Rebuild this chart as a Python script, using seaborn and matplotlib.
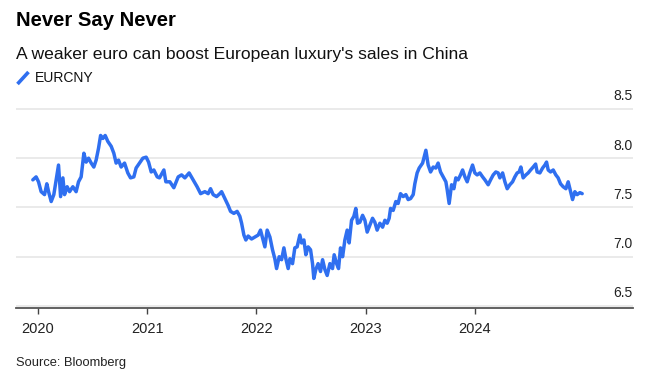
import matplotlib
matplotlib.use("Agg")
import matplotlib.pyplot as plt
from matplotlib.lines import Line2D
import seaborn as sns
import pandas as pd

# EURCNY (decimal year, rate)
years = [
    2019.954, 2019.984, 2020.006, 2020.030, 2020.061, 2020.082, 2020.098, 2020.122,
    2020.146, 2020.167, 2020.189, 2020.208, 2020.229, 2020.244, 2020.268, 2020.290,
    2020.320, 2020.350, 2020.372, 2020.396, 2020.421, 2020.442, 2020.464, 2020.488,
    2020.512, 2020.533, 2020.555, 2020.574, 2020.595, 2020.616, 2020.640, 2020.671,
    2020.695, 2020.716, 2020.738, 2020.762, 2020.793, 2020.823, 2020.848, 2020.878,
    2020.899, 2020.930, 2020.961, 2020.991, 2021.013, 2021.037, 2021.061, 2021.092,
    2021.113, 2021.153, 2021.171, 2021.208, 2021.244, 2021.284, 2021.315, 2021.345,
    2021.384, 2021.421, 2021.457, 2021.489, 2021.528, 2021.558, 2021.580, 2021.604,
    2021.635, 2021.665, 2021.681, 2021.711, 2021.741, 2021.763, 2021.793, 2021.823,
    2021.848, 2021.864, 2021.885, 2021.903, 2021.924, 2021.955, 2021.985, 2022.016,
    2022.037, 2022.056, 2022.077, 2022.098, 2022.123, 2022.147, 2022.168, 2022.184,
    2022.208, 2022.230, 2022.251, 2022.269, 2022.290, 2022.306, 2022.330, 2022.351,
    2022.372, 2022.397, 2022.413, 2022.434, 2022.452, 2022.473, 2022.495, 2022.513,
    2022.525, 2022.543, 2022.564, 2022.586, 2022.605, 2022.626, 2022.647, 2022.672,
    2022.696, 2022.711, 2022.733, 2022.751, 2022.769, 2022.788, 2022.809, 2022.830,
    2022.848, 2022.870, 2022.891, 2022.909, 2022.925, 2022.946, 2022.971, 2022.992,
    2023.013, 2023.038, 2023.062, 2023.083, 2023.104, 2023.129, 2023.154, 2023.175,
    2023.196, 2023.214, 2023.227, 2023.251, 2023.275, 2023.296, 2023.318, 2023.342,
    2023.367, 2023.388, 2023.410, 2023.434, 2023.449, 2023.470, 2023.489, 2023.520,
    2023.550, 2023.571, 2023.593, 2023.617, 2023.641, 2023.662, 2023.684, 2023.708,
    2023.733, 2023.745, 2023.763, 2023.785, 2023.806, 2023.824, 2023.845, 2023.867,
    2023.886, 2023.907, 2023.928, 2023.952, 2023.977, 2023.998, 2024.019, 2024.044,
    2024.069, 2024.090, 2024.120, 2024.142, 2024.166, 2024.190, 2024.211, 2024.227,
    2024.252, 2024.273, 2024.294, 2024.318, 2024.343, 2024.364, 2024.385, 2024.403,
    2024.419, 2024.440, 2024.465, 2024.486, 2024.508, 2024.532, 2024.554, 2024.568,
    2024.593, 2024.618, 2024.639, 2024.654, 2024.669, 2024.691, 2024.715, 2024.739,
    2024.760, 2024.782, 2024.806, 2024.831, 2024.852, 2024.874, 2024.892, 2024.913,
    2024.934, 2024.959, 2024.980,
]
eurcny = [
    7.78, 7.81, 7.76, 7.66, 7.63, 7.74, 7.66, 7.56,
    7.63, 7.78, 7.93, 7.61, 7.80, 7.63, 7.71, 7.66,
    7.71, 7.66, 7.76, 7.81, 8.05, 7.96, 8.00, 7.95,
    7.91, 7.98, 8.10, 8.23, 8.20, 8.23, 8.17, 8.12,
    8.05, 7.95, 7.98, 7.91, 7.95, 7.85, 7.80, 7.81,
    7.90, 7.95, 8.00, 8.01, 7.96, 7.86, 7.88, 7.81,
    7.80, 7.88, 7.76, 7.76, 7.70, 7.81, 7.83, 7.80,
    7.85, 7.78, 7.71, 7.64, 7.66, 7.64, 7.69, 7.63,
    7.61, 7.64, 7.66, 7.59, 7.52, 7.46, 7.44, 7.46,
    7.41, 7.34, 7.22, 7.17, 7.21, 7.18, 7.20, 7.22,
    7.27, 7.19, 7.10, 7.27, 7.20, 7.07, 6.98, 6.88,
    7.00, 6.97, 7.09, 6.98, 6.88, 6.98, 6.93, 7.09,
    7.10, 7.22, 7.14, 7.17, 7.02, 7.10, 7.07, 6.93,
    6.78, 6.87, 6.93, 6.85, 6.97, 6.87, 6.81, 6.93,
    6.88, 7.02, 6.93, 6.88, 7.09, 7.00, 7.17, 7.27,
    7.14, 7.37, 7.41, 7.49, 7.34, 7.35, 7.42, 7.37,
    7.25, 7.32, 7.39, 7.35, 7.27, 7.34, 7.30, 7.37,
    7.34, 7.39, 7.49, 7.47, 7.56, 7.54, 7.64, 7.61,
    7.63, 7.58, 7.59, 7.63, 7.74, 7.85, 7.90, 7.95,
    8.08, 7.93, 7.86, 7.91, 7.90, 7.95, 7.86, 7.81,
    7.76, 7.68, 7.54, 7.73, 7.69, 7.80, 7.78, 7.83,
    7.88, 7.81, 7.76, 7.85, 7.93, 7.85, 7.83, 7.85,
    7.81, 7.78, 7.73, 7.78, 7.83, 7.86, 7.85, 7.80,
    7.85, 7.76, 7.69, 7.73, 7.76, 7.81, 7.85, 7.86,
    7.91, 7.80, 7.83, 7.85, 7.88, 7.91, 7.94, 7.86,
    7.85, 7.90, 7.93, 7.96, 7.88, 7.86, 7.88, 7.83,
    7.80, 7.74, 7.71, 7.69, 7.76, 7.66, 7.58, 7.66,
    7.63, 7.65, 7.64,
]
year_ticks = [2020, 2021, 2022, 2023, 2024]
rate_ticks = [6.5, 7.0, 7.5, 8.0, 8.5]

blue = "#2f6ff0"

sns.set_style("white")
plt.rcParams["font.family"] = ["Liberation Sans", "DejaVu Sans"]

df = pd.DataFrame({"year": years, "EURCNY": eurcny})

fig = plt.figure(figsize=(6.62, 3.84), dpi=100)
ax = fig.add_axes([16 / 662, 76 / 384, 617 / 662, 209 / 384])

sns.lineplot(data=df, x="year", y="EURCNY", ax=ax, color=blue, lw=2.5)

ax.set_xlim(2019.80, 2025.445)
ax.set_ylim(6.48, 8.6)
ax.set_xticks(year_ticks)
ax.set_xticklabels([str(y) for y in year_ticks])
ax.set_yticks(rate_ticks)
ax.set_yticklabels([])
ax.grid(axis="y", color="#e8e8e8", lw=1.3)
ax.grid(axis="x", visible=False)
ax.set_xlabel("")
ax.set_ylabel("")

for s in ["top", "left", "right"]:
    ax.spines[s].set_visible(False)
ax.spines["bottom"].set_color("#555555")
ax.spines["bottom"].set_linewidth(1.3)
ax.tick_params(axis="x", bottom=True, length=4, width=1, color="#444444",
               pad=6, labelsize=10.5, labelcolor="#222222")
ax.tick_params(axis="y", length=0, left=False, right=False)

# right-hand labels sit above their gridlines
for v in rate_ticks:
    ax.annotate(f"{v:.1f}", xy=(1.0, v), xycoords=("axes fraction", "data"),
                xytext=(0, 4), textcoords="offset points",
                ha="right", va="bottom", fontsize=10, color="#222222")

fig.text(16 / 662, 1 - 21 / 384, "Never Say Never", fontsize=14.6,
         fontweight="bold", va="center", color="#000000")
fig.text(16 / 662, 1 - 54 / 384,
         "A weaker euro can boost European luxury's sales in China",
         fontsize=12.6, va="center", color="#111111")
fig.add_artist(Line2D([17.5 / 662, 28.5 / 662], [1 - 84 / 384, 1 - 72 / 384],
                      color=blue, lw=2.6, solid_capstyle="butt"))
fig.text(35 / 662, 1 - 78 / 384, "EURCNY", fontsize=10, va="center",
         color="#111111")
fig.text(16 / 662, 1 - 363 / 384, "Source: Bloomberg", fontsize=9.3,
         va="center", color="#222222")

fig.savefig("out.png", dpi=100)
